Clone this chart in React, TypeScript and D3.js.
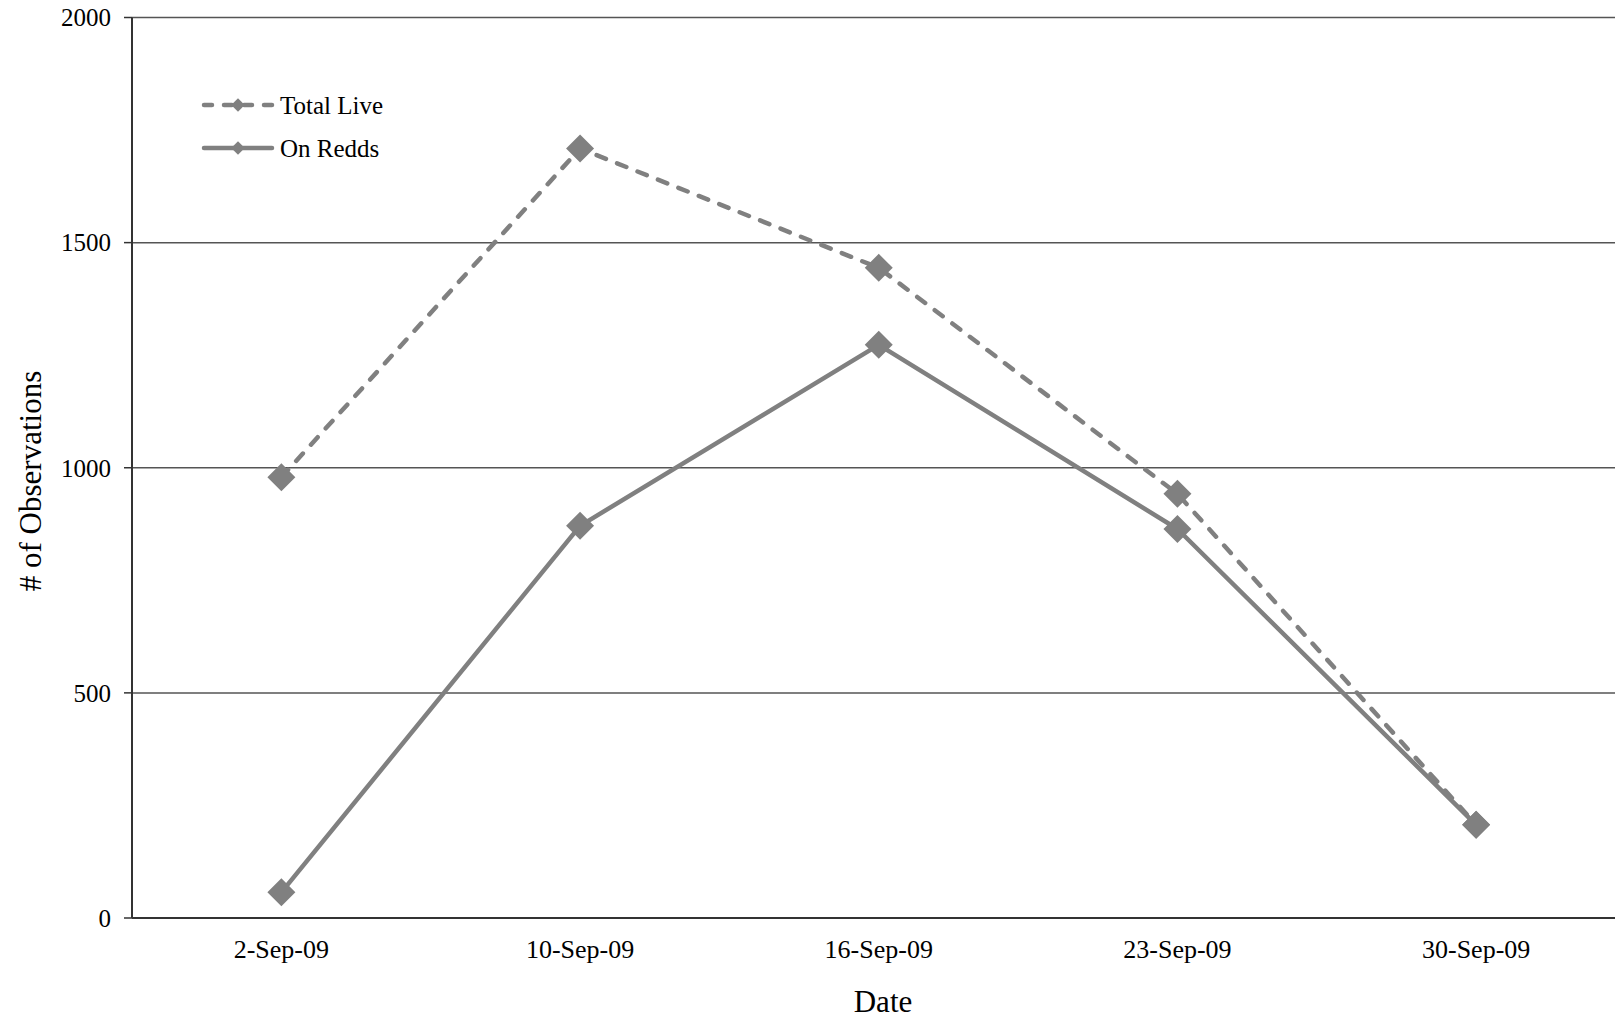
import React from "react";
import * as d3 from "d3";

const categories = ["2-Sep-09", "10-Sep-09", "16-Sep-09", "23-Sep-09", "30-Sep-09"];
const totalLive = [979, 1709, 1444, 942, 207];
const onRedds = [57, 871, 1273, 864, 207];
const yTicks = [0, 500, 1000, 1500, 2000];

const W = 1615;
const H = 1021;
const left = 132;
const bandW = 298.7;
const top = 17.5;
const bottom = 918;
const GRAY = "#808080";
const FONT = "'Liberation Serif', 'Times New Roman', serif";

export default function App() {
  const x = d3.scaleBand<string>().domain(categories).range([left, left + bandW * categories.length]).padding(0);
  const y = d3.scaleLinear().domain([0, 2000]).range([bottom, top]);
  const cx = (c: string) => (x(c) as number) + x.bandwidth() / 2;
  const line = d3.line<number>().x((_, i) => cx(categories[i])).y((v) => y(v));
  const marker = d3.symbol().type(d3.symbolSquare).size(392)() as string;
  const legMarker = d3.symbol().type(d3.symbolSquare).size(90)() as string;

  const series = [
    { name: "Total Live", values: totalLive, dash: "10,12" },
    { name: "On Redds", values: onRedds, dash: null as string | null },
  ];

  return (
    <svg width={W} height={H} style={{ position: "absolute", left: 0, top: 0, background: "#fff" }} fontFamily={FONT}>
      {yTicks.filter((t) => t > 0).map((t) => (
        <line key={t} x1={left} x2={W} y1={y(t)} y2={y(t)} stroke="#555" strokeWidth={1.5} />
      ))}
      {yTicks.map((t) => (
        <g key={"t" + t}>
          <line x1={left - 8} x2={left} y1={y(t)} y2={y(t)} stroke="#333" strokeWidth={1.5} />
          <text x={111} y={y(t)} dy="0.35em" textAnchor="end" fontSize={25} fill="#000">{t}</text>
        </g>
      ))}
      <line x1={left} x2={left} y1={top} y2={bottom} stroke="#333" strokeWidth={2} />
      <line x1={left} x2={W} y1={bottom} y2={bottom} stroke="#333" strokeWidth={2} />
      {categories.map((c) => (
        <text key={c} x={cx(c)} y={958} textAnchor="middle" fontSize={26} fill="#000">{c}</text>
      ))}
      <text x={883} y={1012} textAnchor="middle" fontSize={31} fill="#000">Date</text>
      <text transform={`translate(41,${481}) rotate(-90)`} textAnchor="middle" fontSize={31} fill="#000"># of Observations</text>
      {series.map((s) => (
        <g key={s.name}>
          <path d={line(s.values) as string} fill="none" stroke={GRAY} strokeWidth={4.5} strokeDasharray={s.dash ?? undefined} strokeLinecap={s.dash ? "round" : "butt"} strokeLinejoin="round" />
          {s.values.map((v, i) => (
            <path key={i} d={marker} transform={`translate(${cx(categories[i])},${y(v)}) rotate(45)`} fill={GRAY} />
          ))}
        </g>
      ))}
      {series.map((s, i) => {
        const ly = 105 + i * 43;
        return (
          <g key={"l" + s.name}>
            <line x1={204} x2={272} y1={ly} y2={ly} stroke={GRAY} strokeWidth={4.5} strokeDasharray={s.dash ? "8,12" : undefined} strokeLinecap="round" />
            <path d={legMarker} transform={`translate(238,${ly}) rotate(45)`} fill={GRAY} />
            <text x={280} y={ly} dy="0.35em" fontSize={25} fill="#000">{s.name}</text>
          </g>
        );
      })}
    </svg>
  );
}
